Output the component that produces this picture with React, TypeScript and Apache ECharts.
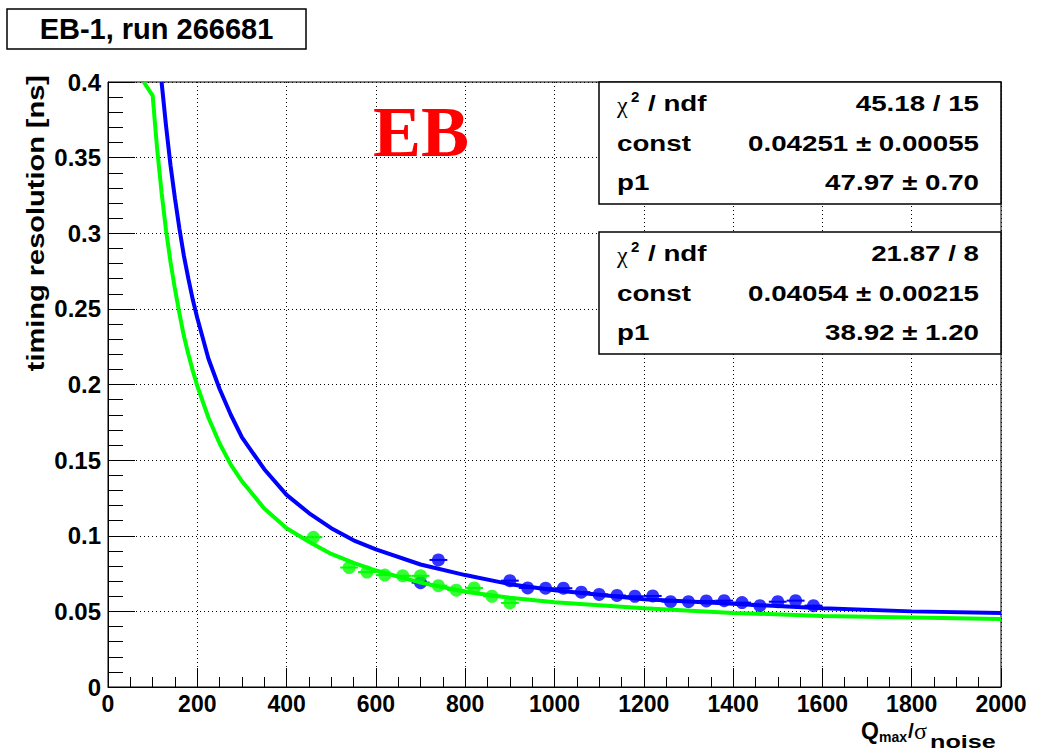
import React, { useEffect, useRef } from "react";
import * as echarts from "echarts";

// ---- data ----
const blueX = [700, 740, 900, 940, 980, 1020, 1060, 1100, 1140, 1180, 1220, 1260, 1300, 1340, 1380, 1420, 1460, 1500, 1540, 1580];
const blueY = [0.069, 0.084, 0.0703, 0.0655, 0.0653, 0.0653, 0.0627, 0.0612, 0.0605, 0.0600, 0.0602, 0.0564, 0.0564, 0.0569, 0.0571, 0.0558, 0.0538, 0.0564, 0.0571, 0.0538];

const greenX = [460, 540, 580, 620, 660, 700, 740, 780, 820, 860, 900];
const greenY = [0.099, 0.079, 0.076, 0.074, 0.0735, 0.0735, 0.067, 0.064, 0.0655, 0.060, 0.0556];

const blueFitX = [120, 130, 140, 150, 160, 170, 180, 190, 200, 225, 250, 275, 300, 350, 400, 450, 500, 550, 600, 700, 800, 900, 1000, 1100, 1200, 1400, 1600, 1800, 2000];
const blueFitY = [0.400, 0.371, 0.345, 0.323, 0.303, 0.285, 0.270, 0.256, 0.244, 0.217, 0.197, 0.180, 0.165, 0.144, 0.127, 0.115, 0.105, 0.097, 0.091, 0.081, 0.074, 0.068, 0.064, 0.061, 0.058, 0.055, 0.052, 0.050, 0.049];

const greenFitX = [80, 100, 110, 120, 130, 140, 150, 160, 170, 180, 190, 200, 225, 250, 275, 300, 350, 400, 450, 500, 550, 600, 700, 800, 900, 1000, 1100, 1200, 1400, 1600, 1800, 2000];
const greenFitY = [0.400, 0.391, 0.356, 0.327, 0.302, 0.281, 0.263, 0.247, 0.232, 0.220, 0.209, 0.199, 0.178, 0.161, 0.147, 0.136, 0.118, 0.105, 0.096, 0.088, 0.082, 0.077, 0.069, 0.063, 0.059, 0.056, 0.054, 0.052, 0.049, 0.047, 0.046, 0.045];

const titleText = "EB-1, run 266681";
const labelText = "EB";
const yTitle = "timing resolution [ns]";
const statNames = ["const", "p1"];
const blueStats = ["45.18 / 15", "0.04251 \u00b1 0.00055", "47.97 \u00b1 0.70"];
const greenStats = ["21.87 / 8", "0.04054 \u00b1 0.00215", "38.92 \u00b1 1.20"];

const xMin = 0, xMax = 2000, xStep = 200;
const yMin = 0, yMax = 0.4, yStep = 0.05;
const binHalf = 20;

const BLUE = "#0000ff";
const GREEN = "#00ff00";
const SANS = "'Liberation Sans', Arial, Helvetica, sans-serif";
const SERIF = "'Liberation Serif', 'Times New Roman', serif";
const WIDE = 1.26;

function txt(x: number, y: number, text: string, font: string, align: string, extra: any = {}) {
  return { type: "text", x, y, z: 101, ...extra, style: { text, font, fill: "#000", align, verticalAlign: "middle" } };
}

function statBox(top: number, vals: string[]): any[] {
  const left = 599, right = 1001, h = 122;
  const rows = [top + 21, top + 61, top + 100];
  const f = `bold 22px ${SANS}`;
  const els: any[] = [
    { type: "rect", shape: { x: left, y: top, width: right - left, height: h }, style: { fill: "#fff", stroke: "#000", lineWidth: 1.5 }, z: 100 },
    txt(617, rows[0] + 2, "\u03c7", `24px ${SERIF}`, "left"),
    txt(631, rows[0] - 7, "2", `bold 15px ${SANS}`, "left"),
    txt(648, rows[0], "/ ndf", f, "left", { scaleX: WIDE }),
    txt(617, rows[1], statNames[0], f, "left", { scaleX: WIDE }),
    txt(617, rows[2], statNames[1], f, "left", { scaleX: WIDE }),
  ];
  vals.forEach((v, i) => {
    els.push(txt(979, rows[i], v, f, "right", { scaleX: WIDE }));
  });
  return els;
}

function errBars(color: string) {
  return (params: any, api: any) => {
    const a = api.coord([api.value(0) - binHalf, api.value(1)]);
    const b = api.coord([api.value(0) + binHalf, api.value(1)]);
    return { type: "line", shape: { x1: a[0], y1: a[1], x2: b[0], y2: b[1] }, style: { stroke: color, lineWidth: 2 } };
  };
}

export default function App() {
  const ref = useRef<HTMLDivElement>(null);
  useEffect(() => {
    if (!ref.current) return;
    const chart = echarts.init(ref.current, null, { renderer: "svg" });
    const option: any = {
      animation: false,
      backgroundColor: "#fff",
      grid: { left: 108, right: 38, top: 82, bottom: 64, show: true, borderColor: "#000", borderWidth: 1, backgroundColor: "transparent" },
      xAxis: {
        type: "value", min: xMin, max: xMax, interval: xStep,
        axisLine: { show: true, lineStyle: { color: "#000", width: 1 } },
        axisTick: { show: true, inside: true, length: 19, lineStyle: { color: "#000", width: 1 } },
        minorTick: { show: true, splitNumber: 4, length: 10, lineStyle: { color: "#000", width: 1 } },
        axisLabel: { color: "#000", fontFamily: SANS, fontWeight: "bold", fontSize: 23, margin: 5, formatter: (v: number) => String(v) },
        splitLine: { show: true, lineStyle: { color: "#000", width: 1, type: [1, 3] } },
      },
      yAxis: {
        type: "value", min: yMin, max: yMax, interval: yStep,
        axisLine: { show: true, lineStyle: { color: "#000", width: 1 } },
        axisTick: { show: true, inside: true, length: 27, lineStyle: { color: "#000", width: 1 } },
        minorTick: { show: true, splitNumber: 5, length: 15, lineStyle: { color: "#000", width: 1 } },
        axisLabel: { color: "#000", fontFamily: SANS, fontWeight: "bold", fontSize: 24, margin: 7, formatter: (v: number) => String(+v.toFixed(2)) },
        splitLine: { show: true, lineStyle: { color: "#000", width: 1, type: [1, 3] } },
      },
      series: [
        { type: "custom", renderItem: errBars(BLUE), data: zip(blueX, blueY), z: 3 },
        { type: "scatter", data: zip(blueX, blueY), symbol: "circle", symbolSize: 13, itemStyle: { color: BLUE }, z: 3 },
        { type: "line", data: zip(blueFitX, blueFitY), showSymbol: false, lineStyle: { color: BLUE, width: 4 }, z: 4 },
        { type: "custom", renderItem: errBars(GREEN), data: zip(greenX, greenY), z: 5 },
        { type: "scatter", data: zip(greenX, greenY), symbol: "circle", symbolSize: 13, itemStyle: { color: GREEN }, z: 5 },
        { type: "line", data: zip(greenFitX, greenFitY), showSymbol: false, lineStyle: { color: GREEN, width: 4 }, z: 6 },
      ],
      graphic: [
        { type: "rect", shape: { x: 7, y: 9, width: 299, height: 40 }, style: { fill: "#fff", stroke: "#000", lineWidth: 1.5 }, z: 100 },
        { type: "text", x: 156.5, y: 29, style: { text: titleText, font: `bold 29px ${SANS}`, fill: "#000", align: "center", verticalAlign: "middle" }, z: 101 },
        { type: "text", x: 373, y: 132, style: { text: labelText, font: `bold 72px ${SERIF}`, fill: "#ff0000", align: "left", verticalAlign: "middle" }, z: 90 },
        txt(36, 75, yTitle, `bold 23px ${SANS}`, "right", { rotation: Math.PI / 2, scaleX: WIDE }),
        txt(861, 731, "Q", `bold 23px ${SANS}`, "left"),
        txt(879, 737, "max", `bold 14px ${SANS}`, "left"),
        txt(908, 730, "/", `bold 21px ${SANS}`, "left"),
        txt(914, 731, "\u03c3", `24px ${SERIF}`, "left"),
        txt(930, 742, "noise", `bold 18px ${SANS}`, "left", { scaleX: 1.4 }),
        ...statBox(82, blueStats),
        ...statBox(232, greenStats),
      ],
    };
    chart.setOption(option);
    return () => chart.dispose();
  }, []);
  return <div ref={ref} style={{ position: "fixed", left: 0, top: 0, width: 1039, height: 751, background: "#fff" }} />;
}

function zip(xs: number[], ys: number[]) {
  return xs.map((x, i) => [x, ys[i]]);
}
